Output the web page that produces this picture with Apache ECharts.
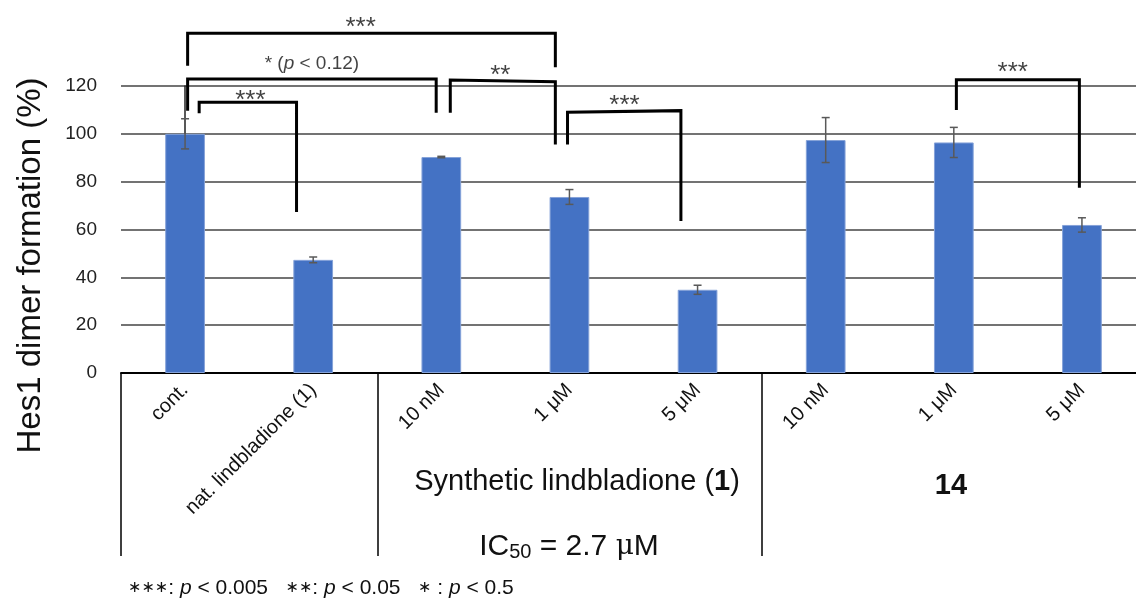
<!DOCTYPE html>
<html>
<head>
<meta charset="utf-8">
<script src="https://cdn.jsdelivr.net/npm/echarts@6/dist/echarts.min.js"></script>
<style>
  html, body { margin: 0; padding: 0; background: #fff; }
  #main { width: 1136px; height: 600px; }
</style>
</head>
<body>
<div id="main"></div>
<script>
// categories and measured values
var categories = ['cont.', 'nat. lindbladione (1)', '10 nM', '1 μM', '5 μM', '10 nM', '1 μM', '5 μM'];
var means = [100, 47.3, 90.3, 73.6, 34.8, 97.4, 96.4, 61.9];
var errors = [6.3, 1.2, 0.3, 3.1, 1.9, 9.4, 6.3, 3.0];
var yTicks = { min: 0, max: 120, interval: 20 };

// significance brackets: [categoryIndex, value] corners
var brackets = [
  [[0.02, 128.5], [0.02, 142.1], [2.89, 142.1], [2.89, 127.8]],
  [[0.02, 109.7], [0.02, 122.9], [1.96, 122.9], [1.96, 108.8]],
  [[0.11, 108.6], [0.11, 113.2], [0.87, 113.2], [0.87, 67.3]],
  [[2.07, 108.8], [2.07, 122.5], [2.89, 121.8], [2.89, 95.5]],
  [[2.985, 95.5], [2.985, 109.0], [3.87, 109.7], [3.87, 63.6]],
  [[6.02, 110.0], [6.02, 122.6], [6.98, 122.6], [6.98, 77.5]]
];
var bracketLabels = ['{s|***}', '* ({i|p} < 0.12)', '{s|***}', '{s|**}', '{s|***}', '{s|***}'];
var bracketLabelPos = [[1.37, 146.8], [0.99, 129.4], [0.51, 116.2], [2.46, 126.6], [3.43, 114.1], [6.46, 128.0]];

var font = 'Liberation Sans, Arial, sans-serif';
var myChart = echarts.init(document.getElementById('main'));

var series = [];
series.push({
  type: 'bar',
  data: means,
  barWidth: '31%',
  itemStyle: { color: '#4472C4', borderColor: '#86a3d9', borderWidth: 1 },
  silent: true
});
series.push({
  type: 'custom',
  data: means.map(function(m, i) { return [i, m - errors[i], m + errors[i]]; }),
  renderItem: function(params, api) {
    var lo = api.coord([api.value(0), api.value(1)]);
    var hi = api.coord([api.value(0), api.value(2)]);
    var w = 4;
    var st = { stroke: '#595959', lineWidth: 1.5 };
    return {
      type: 'group',
      children: [
        { type: 'line', shape: { x1: hi[0], y1: hi[1], x2: lo[0], y2: lo[1] }, style: st },
        { type: 'line', shape: { x1: hi[0] - w, y1: hi[1], x2: hi[0] + w, y2: hi[1] }, style: st },
        { type: 'line', shape: { x1: lo[0] - w, y1: lo[1], x2: lo[0] + w, y2: lo[1] }, style: st }
      ]
    };
  },
  z: 5,
  silent: true
});
brackets.forEach(function(b) {
  series.push({
    type: 'line',
    xAxisIndex: 1,
    data: b,
    symbol: 'none',
    clip: false,
    silent: true,
    lineStyle: { color: '#000', width: 3, cap: 'butt', join: 'miter' },
    z: 6
  });
});
series.push({
  type: 'scatter',
  xAxisIndex: 1,
  clip: false,
  symbolSize: 1,
  itemStyle: { color: 'rgba(0,0,0,0)' },
  silent: true,
  data: bracketLabelPos.map(function(p, i) {
    var isStars = bracketLabels[i].indexOf('{s|') === 0;
    return { value: p, name: bracketLabels[i], label: { offset: [0, isStars ? 6 : 0] } };
  }),
  label: {
    show: true,
    position: 'inside',
    formatter: function(p) { return p.name; },
    color: '#111',
    fontFamily: font,
    fontSize: 19,
    rich: {
      s: { fontFamily: font, fontSize: 26, color: '#111' },
      i: { fontFamily: font, fontSize: 19, fontStyle: 'italic', color: '#111' }
    }
  },
  z: 7
});

myChart.setOption({
  animation: false,
  grid: { left: 121, width: 1025, top: 86, bottom: 227, containLabel: false, outerBoundsMode: 'none' },
  xAxis: [
    {
      type: 'category',
      data: categories,
      axisLine: { lineStyle: { color: '#000', width: 2 } },
      axisTick: {
        show: true,
        length: 183,
        interval: function(i) { return i === 0 || i === 2 || i === 5; },
        lineStyle: { color: '#000', width: 1.5 }
      },
      axisLabel: {
        interval: 0,
        rotate: 45,
        margin: 14,
        color: '#111',
        fontFamily: font,
        fontSize: 20
      }
    },
    { type: 'value', min: -0.5, max: 7.5, show: false }
  ],
  yAxis: {
    type: 'value',
    min: yTicks.min,
    max: yTicks.max,
    interval: yTicks.interval,
    name: 'Hes1 dimer formation (%)',
    nameLocation: 'middle',
    nameGap: 74,
    nameTextStyle: { fontFamily: font, fontSize: 33, color: '#111', padding: [0, 72, 0, 0] },
    axisLine: { show: true, lineStyle: { color: '#222', width: 1.5 } },
    axisTick: { show: false },
    axisLabel: { margin: 24, color: '#222', fontFamily: font, fontSize: 19 },
    splitLine: { lineStyle: { color: '#444', width: 1.5 } }
  },
  graphic: [
    {
      type: 'text', x: 577, y: 482,
      style: {
        text: 'Synthetic lindbladione ({b|1})',
        align: 'center', verticalAlign: 'middle',
        fontFamily: font, fontSize: 29, fill: '#111',
        rich: { b: { fontFamily: font, fontSize: 29, fontWeight: 'bold', fill: '#111' } }
      }
    },
    {
      type: 'text', x: 951, y: 486,
      style: { text: '14', align: 'center', verticalAlign: 'middle', fontFamily: font, fontSize: 29, fontWeight: 'bold', fill: '#111' }
    },
    {
      type: 'text', x: 569, y: 547,
      style: {
        text: 'IC{sub|50} = 2.7 {mu|μ}M',
        align: 'center', verticalAlign: 'middle',
        fontFamily: font, fontSize: 30, fill: '#111',
        rich: {
          sub: { fontFamily: font, fontSize: 20, fill: '#111', verticalAlign: 'bottom', padding: [10, 0, 0, 0] },
          mu: { fontFamily: 'DejaVu Serif', fontSize: 28, fill: '#111' }
        }
      }
    },
    {
      type: 'text', x: 128, y: 588,
      style: {
        text: '{s|∗∗∗}: {i|p} < 0.005   {s|∗∗}: {i|p} < 0.05   {s|∗} : {i|p} < 0.5',
        align: 'left', verticalAlign: 'middle',
        fontFamily: font, fontSize: 21, fill: '#111',
        rich: {
          s: { fontFamily: 'DejaVu Sans', fontSize: 16, fill: '#111' },
          i: { fontFamily: font, fontSize: 21, fontStyle: 'italic', fill: '#111' }
        }
      }
    }
  ],
  series: series
});
</script>
</body>
</html>
